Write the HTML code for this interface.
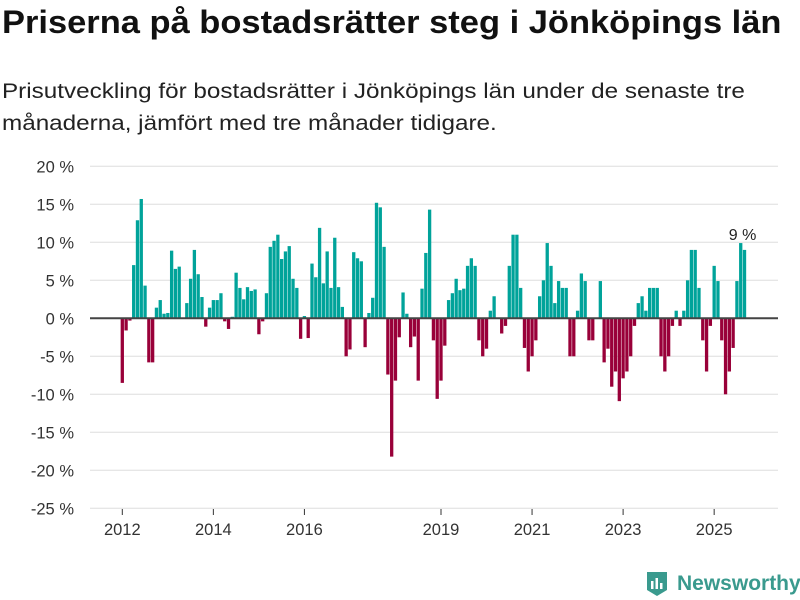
<!DOCTYPE html>
<html><head><meta charset="utf-8"><style>
body{margin:0;width:800px;height:600px;background:#fff;font-family:"Liberation Sans",sans-serif;overflow:hidden;position:relative}
#title{position:absolute;left:2px;top:4px;font-size:32px;font-weight:bold;color:#111;transform-origin:0 0;transform:scaleX(1.077);white-space:nowrap}
#sub{position:absolute;left:2px;top:76px;font-size:21px;line-height:32px;color:#222;transform-origin:0 0;transform:scaleX(1.155);white-space:nowrap}
svg{position:absolute;left:0;top:0}
#logo{position:absolute;left:645px;top:570px;display:flex;align-items:center;font-size:21px;font-weight:bold;color:#3a9a8e}
</style></head><body>
<div id="title">Priserna på bostadsrätter steg i Jönköpings län</div>
<div id="sub">Prisutveckling för bostadsrätter i Jönköpings län under de senaste tre<br>månaderna, jämfört med tre månader tidigare.</div>
<svg id="chart" width="800" height="600"></svg>
<div id="logo"><svg width="24" height="28" style="position:static;margin-right:8px"><path d="M2 2h20v18l-10 6-10-6z" fill="#3a9a8e"/><rect x="6" y="11" width="2.5" height="8" fill="#fff"/><rect x="10.5" y="8" width="2.5" height="11" fill="#fff"/><rect x="15" y="13" width="2.5" height="6" fill="#fff"/></svg>Newsworthy</div>
<script>
const values=[-8.5,-1.6,-0.3,7.0,12.9,15.7,4.3,-5.8,-5.8,1.4,2.4,0.6,0.7,8.9,6.5,6.8,0,2.0,5.2,9.0,5.8,2.8,-1.1,1.4,2.4,2.4,3.3,-0.4,-1.4,0.2,6.0,4.0,2.5,4.1,3.6,3.8,-2.1,-0.4,3.3,9.4,10.2,11.0,
7.8,8.8,9.5,5.2,4.0,-2.7,0.3,-2.6,7.2,5.4,11.9,4.6,8.8,4.0,10.6,4.1,1.5,-5.0,-4.1,8.7,7.9,7.5,-3.8,0.7,2.7,15.2,14.6,9.4,-7.4,-18.2,-8.2,-2.5,3.4,0.6,-3.8,-2.4,-8.2,3.9,8.6,14.3,
-2.9,-10.6,-8.2,-3.6,2.4,3.3,5.2,3.7,3.9,6.9,7.9,6.9,-2.9,-5.0,-4.0,1.0,2.9,0,-2.0,-1.0,6.9,11,11,4.0,-3.9,-7.0,-5.0,-2.9,2.9,5.0,9.9,6.9,2.0,4.9,4.0,4.0,-5.0,-5.0,1.0,5.9,4.9,-2.9,-2.9,
0,4.9,-5.8,-4.0,-9.0,-7.0,-10.9,-7.9,-7.0,-5.0,-1.0,2.0,2.9,1.0,4.0,4.0,4.0,-5.0,-7.0,-5.0,-1.0,1.0,-1.0,1.0,5.0,9.0,9.0,4.0,-2.9,-7.0,-1.0,6.9,4.9,-2.9,-10.0,-7.0,-3.9,4.9,9.9,9.0];
const startYear=2012;
const yTicks=[20,15,10,5,0,-5,-10,-15,-20,-25];
const xYears=[2012,2014,2016,2019,2021,2023,2025];
const lastLabel="9 %";
const svg=document.getElementById('chart');const NS='http://www.w3.org/2000/svg';
const y=v=>318.3-v*7.6;
const x=i=>122.3+i*3.794;
function mk(t,a){const e=document.createElementNS(NS,t);for(const k in a)e.setAttribute(k,a[k]);svg.appendChild(e);return e;}
yTicks.forEach(t=>{
 const g=mk('line',{x1:90,x2:778,y1:y(t),y2:y(t),stroke:'#ddd','stroke-width':1});
 
 
 const l=mk('text',{x:74,y:y(t)+6,'text-anchor':'end','font-size':16.5,fill:'#333'});
 l.textContent=t+' %';
 
 
});
values.forEach((v,i)=>{
 const r=mk('rect',{x:x(i)-1.65,width:3.3,y:Math.min(y(v),y(0)),height:Math.abs(y(v)-y(0)),fill:v>=0?'#00a39a':'#990039'});
 
 
});
const z=mk('line',{x1:90,x2:778,y1:y(0),y2:y(0),stroke:'#444','stroke-width':2});


xYears.forEach(yr=>{
 const xi=x((yr-startYear)*12);
 const tk=mk('line',{x1:xi,x2:xi,y1:509,y2:515,stroke:'#333','stroke-width':1});
 
 
 const l=mk('text',{x:xi,y:535,'text-anchor':'middle','font-size':16.5,fill:'#333'});
 l.textContent=yr;
 
 
});
const li=values.length-1;
const ann=mk('text',{x:x(li)-2,y:y(values[li])-10,'text-anchor':'middle','font-size':16,fill:'#222'});
ann.textContent=lastLabel;


</script>
</body></html>
